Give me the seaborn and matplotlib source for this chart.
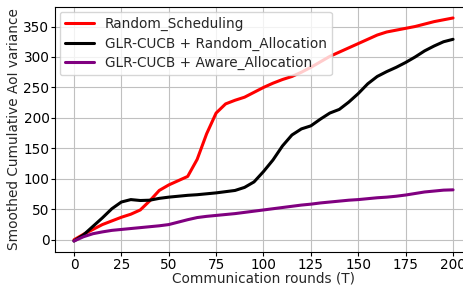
import numpy as np
import pandas as pd
import matplotlib
matplotlib.use("Agg")
import matplotlib.pyplot as plt
import seaborn as sns

# Values, every 5 rounds
rounds = list(range(0, 201, 5))

random_scheduling = [0, 9, 17, 25, 31, 37, 42, 49, 64, 81,
                     90, 97, 104, 132, 174, 208, 223, 229, 234, 242,
                     250, 257, 263, 268, 275, 283, 292, 301, 308, 315,
                     322, 329, 336, 341, 344, 347, 350, 354, 358, 361, 364]

glr_random_alloc = [-2, 8, 22, 36, 51, 62, 66, 64.5, 65, 68,
                    70, 71.5, 73, 74, 75.5, 77, 79, 81, 86, 95,
                    112, 131, 154, 172, 182, 187, 198, 208, 214, 226,
                    240, 256, 268, 276, 283, 291, 300, 310, 318, 325, 329]

glr_aware_alloc = [-2, 5, 10, 13, 15.5, 17, 18.5, 20, 21.5, 23,
                   25, 29, 33, 36.5, 38.5, 40, 41.5, 43, 45, 47,
                   49, 51, 53, 55, 57, 58.5, 60.5, 62, 63.5, 65,
                   66, 67.5, 69, 70, 71.5, 73.5, 76, 78.5, 80, 81.5, 82]

series_names = ["Random_Scheduling", "GLR-CUCB + Random_Allocation", "GLR-CUCB + Aware_Allocation"]
colors = ["red", "black", "purple"]

df = pd.DataFrame({
    "T": rounds * 3,
    "value": random_scheduling + glr_random_alloc + glr_aware_alloc,
    "method": [series_names[0]] * len(rounds) + [series_names[1]] * len(rounds) + [series_names[2]] * len(rounds),
})

sns.set_theme(style="ticks", rc={"axes.grid": True, "grid.color": "#c0c0c0",
                                 "grid.linewidth": 0.8, "axes.edgecolor": "black",
                                 "axes.linewidth": 0.8})
plt.rcParams['font.family'] = ['DejaVu Sans']

fig = plt.figure(figsize=(4.64, 2.85), dpi=100)
ax = fig.add_axes([55 / 464, 33 / 285, 417 / 464, 245 / 285])

sns.lineplot(data=df, x="T", y="value", hue="method", palette=colors,
             hue_order=series_names, linewidth=2.2, ax=ax)

fs = 9.8
ax.set_xlim(-10, 210)
ax.set_ylim(-20, 382)
ax.set_xticks([0, 25, 50, 75, 100, 125, 150, 175, 200])
ax.set_yticks([0, 50, 100, 150, 200, 250, 300, 350])
ax.tick_params(labelsize=fs, colors="black", width=0.8, length=2.8, pad=1.2)
ax.set_xlabel("Communication rounds (T)", fontsize=fs, labelpad=0.3)
ax.set_ylabel("Smoothed Cumulative AoI variance", fontsize=fs, labelpad=2)

ax.legend(loc="upper left", fontsize=fs, title=None, frameon=True,
          borderaxespad=0.35, labelspacing=0.38, handlelength=2.1)

fig.savefig("out.png", dpi=100)
